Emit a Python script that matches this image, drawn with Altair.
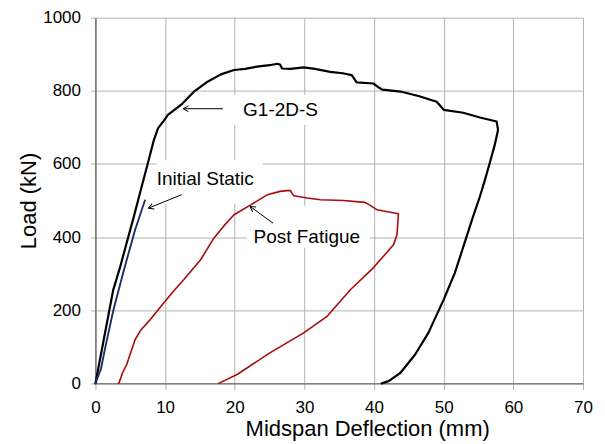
import altair as alt
import pandas as pd

# ---- data ----
g1_x = [0, 0.5, 1.2, 1.8, 2.55, 3.5, 4.5, 5.5, 6.5, 7.5, 8.4, 9.0, 9.8, 10.4, 12.5, 14.1,
        16.1, 18.0, 19.9, 21.5, 23.2, 25.0, 26.1, 26.5, 26.8, 28.0, 29.9, 31.5, 33.7, 35.5,
        36.8, 37.5, 39.9, 40.6, 41.2, 43.8, 46.5, 49.0, 50.0, 52.8, 55.2, 57.6, 57.8, 57.3,
        56.6, 55.9, 55.2, 54.2, 53.3, 51.6, 50.0, 47.8, 45.9, 43.8, 42.1, 41.1]
g1_y = [0, 50, 120, 180, 255, 315, 385, 455, 528, 600, 666, 698, 718, 734, 765, 797,
        825, 845, 857, 860, 866, 870, 874, 872, 861, 860, 864, 860, 852, 848,
        843, 823, 820, 810, 803, 798, 785, 770, 748, 740, 727, 716, 693, 650,
        602, 555, 511, 455, 402, 302, 229, 138, 79, 29, 6, 0]

init_x = [0, 0.8, 1.45, 2.6, 4.1, 5.7, 7.1]
init_y = [0, 40, 102, 202, 311, 420, 500]

post_x = [3.3, 3.4, 3.9, 4.5, 5.7, 6.5, 7.9, 9.8, 11.2, 12.7, 15.1, 17.0, 18.5, 19.9,
          22.3, 24.7, 26.5, 27.5, 28.0, 28.2, 28.5, 30.4, 32.3, 35.6, 38.7, 39.5, 40.4,
          43.5, 43.3, 42.8, 39.9, 36.6, 33.3, 29.9, 25.1, 20.4, 17.7]
post_y = [0, 2, 29, 52, 120, 145, 175, 220, 252, 284, 338, 397, 432, 461,
          488, 516, 525, 527, 527, 520, 513, 507, 502, 500, 495, 486, 475,
          464, 407, 379, 316, 256, 184, 138, 84, 25, 0]

series_names = ["G1-2D-S", "Initial Static", "Post Fatigue"]
series_colors = ["#000000", "#1c2f66", "#a80c0c"]
series_widths = [2.2, 1.6, 1.8]

x_ticks = [0, 10, 20, 30, 40, 50, 60, 70]
y_ticks = [0, 200, 400, 600, 800, 1000]

# annotations
ann_text = ["G1-2D-S", "Initial Static", "Post Fatigue"]
ann_tx = [21.2, 8.8, 22.7]
ann_ty = [748, 558, 401]
arrow_head_x = [12.6, 7.6, 22.2]
arrow_head_y = [751, 479, 484]
arrow_tail_x = [18.3, 12.4, 25.5]
arrow_tail_y = [751, 516, 438]
arrow_angle = [0, 338, 35]
box_x1 = [19.0, 8.8, 21.7]
box_x2 = [34.2, 24.0, 39.4]
box_y1 = [707, 491, 371]
box_y2 = [789, 611, 486]

rows = []
for name, xs_, ys_ in [("G1-2D-S", g1_x, g1_y), ("Initial Static", init_x, init_y),
                       ("Post Fatigue", post_x, post_y)]:
    for i, (a, b) in enumerate(zip(xs_, ys_)):
        rows.append({"series": name, "x": a, "y": b, "order": i})
df = pd.DataFrame(rows)

ann = pd.DataFrame({
    "text": ann_text, "tx": ann_tx, "ty": ann_ty,
    "hx": arrow_head_x, "hy": arrow_head_y, "ax": arrow_tail_x, "ay": arrow_tail_y,
    "angle": arrow_angle, "bx1": box_x1, "bx2": box_x2, "by1": box_y1, "by2": box_y2,
})

FONT = "Liberation Sans"
xs = alt.Scale(domain=[0, 70], nice=False)
ys = alt.Scale(domain=[0, 1000], nice=False)

x_axis = alt.Axis(values=x_ticks, title="Midspan Deflection (mm)", grid=True, format="d",
                  gridColor="#b3b3b3", domainColor="#555555", tickColor="#b3b3b3",
                  tickSize=6, labelFontSize=17, labelFont=FONT, labelColor="#000000",
                  labelPadding=18, labelBaseline="middle", labelFlush=False,
                  titleFont=FONT, titleFontSize=22, titleFontWeight="normal",
                  titleColor="#000000", titleX=272, titleY=45, titleBaseline="middle")
y_axis = alt.Axis(values=y_ticks, title="Load (kN)", grid=True, format="d",
                  gridColor="#b3b3b3", domainColor="#404040", tickColor="#b3b3b3",
                  tickSize=5, labelFontSize=17, labelFont=FONT, labelColor="#000000",
                  labelPadding=10, labelFlush=False,
                  titleFont=FONT, titleFontSize=22, titleFontWeight="normal",
                  titleColor="#000000", titleX=-67, titleY=183, titleAngle=270,
                  titleBaseline="middle", titleAlign="center")

boxes = alt.Chart(ann).mark_rect(fill="white", strokeWidth=0).encode(
    x=alt.X("bx1:Q", scale=xs, axis=x_axis),
    x2="bx2:Q",
    y=alt.Y("by1:Q", scale=ys, axis=y_axis),
    y2="by2:Q",
)

lines = alt.Chart(df).mark_line(strokeJoin="round", strokeCap="round").encode(
    x=alt.X("x:Q", scale=xs, axis=x_axis),
    y=alt.Y("y:Q", scale=ys, axis=y_axis),
    color=alt.Color("series:N", scale=alt.Scale(domain=series_names, range=series_colors),
                    legend=None),
    strokeWidth=alt.StrokeWidth("series:N",
                                scale=alt.Scale(domain=series_names, range=series_widths),
                                legend=None),
    order="order:Q",
    detail="series:N",
)

shafts = alt.Chart(ann).mark_rule(color="#000000", strokeWidth=1).encode(
    x=alt.X("ax:Q", scale=xs, axis=x_axis), x2="hx:Q",
    y=alt.Y("ay:Q", scale=ys, axis=y_axis), y2="hy:Q",
)

heads = alt.Chart(ann).mark_point(
    shape="M 0 0 L 1 -0.55 M 0 0 L 1 0.55", filled=False, color="#000000",
    strokeWidth=1, size=110, opacity=1,
).encode(
    x=alt.X("hx:Q", scale=xs, axis=x_axis),
    y=alt.Y("hy:Q", scale=ys, axis=y_axis),
    angle=alt.Angle("angle:Q", scale=None),
)

labels = alt.Chart(ann).mark_text(align="left", baseline="middle", font=FONT,
                                  fontSize=19, color="#000000").encode(
    x=alt.X("tx:Q", scale=xs, axis=x_axis),
    y=alt.Y("ty:Q", scale=ys, axis=y_axis),
    text="text:N",
)

chart = alt.layer(boxes, lines, shafts, heads, labels).properties(
    width=488, height=366,
    autosize=alt.AutoSizeParams(type="none"),
    padding={"left": 87.5, "top": 9.5, "right": 14, "bottom": 60},
    background="white",
).configure_view(strokeWidth=0)

chart.save("out.html", embed_options={"renderer": "svg", "actions": False})
